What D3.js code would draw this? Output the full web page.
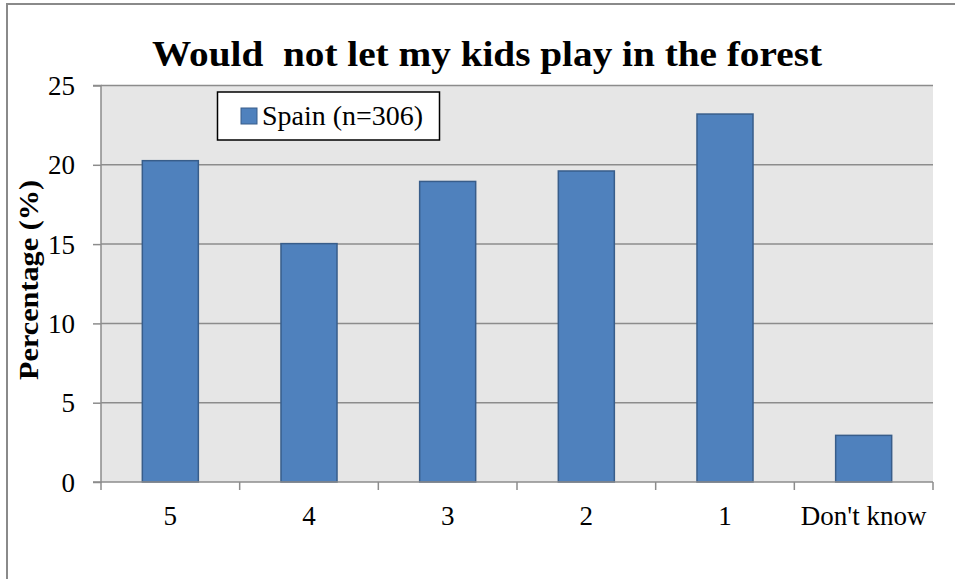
<!DOCTYPE html>
<html>
<head>
<meta charset="utf-8">
<script src="https://cdn.jsdelivr.net/npm/d3@7"></script>
<style>
  html, body { margin: 0; padding: 0; background: #fff; }
  svg { display: block; }
</style>
</head>
<body>
<svg id="chart" width="955" height="579"></svg>
<script>
// ---- data ----
const categories = ["5", "4", "3", "2", "1", "Don't know"];
const values = [20.26, 15.03, 18.95, 19.61, 23.20, 2.94];
const yTicks = [0, 5, 10, 15, 20, 25];
const seriesName = "Spain (n=306)";
const title = "Would  not let my kids play in the forest";
const yLabel = "Percentage (%)";

const svg = d3.select("#chart");
const W = 955, H = 579;
const m = { left: 101, right: 933, top: 85.5, bottom: 482 };
const serif = "'Liberation Serif', 'DejaVu Serif', serif";

// chart frame
svg.append("rect").attr("x", 7).attr("y", 4).attr("width", 1000).attr("height", 700)
  .attr("fill", "#fff").attr("stroke", "#8a8a8a").attr("stroke-width", 2);

const x = d3.scaleBand().domain(categories).range([m.left, m.right]).padding(0);
const y = d3.scaleLinear().domain([0, 25]).range([m.bottom, m.top]);

// plot background
svg.append("rect").attr("x", m.left).attr("y", m.top)
  .attr("width", m.right - m.left).attr("height", m.bottom - m.top).attr("fill", "#e6e6e6");

// gridlines
svg.append("g").selectAll("line").data(yTicks.filter(d => d > 0)).join("line")
  .attr("x1", m.left).attr("x2", m.right)
  .attr("y1", d => y(d)).attr("y2", d => y(d))
  .attr("stroke", "#8c8c8c").attr("stroke-width", 1.5);

// bars
const barW = x.bandwidth() * 0.404;
svg.append("g").selectAll("rect").data(values).join("rect")
  .attr("x", (d, i) => x(categories[i]) + (x.bandwidth() - barW) / 2)
  .attr("y", d => y(d))
  .attr("width", barW)
  .attr("height", d => y(0) - y(d))
  .attr("fill", "#4f81bd").attr("stroke", "#385d8a").attr("stroke-width", 1.5);

// y axis
const yAxis = svg.append("g").attr("transform", `translate(${m.left},0)`)
  .call(d3.axisLeft(y).tickValues(yTicks).tickSize(8).tickPadding(18).tickFormat(d3.format("d")));
yAxis.select(".domain").attr("stroke", "#8c8c8c").attr("stroke-width", 1.5).attr("d", `M-8,${m.top}H0V${m.bottom}H-8`);
yAxis.selectAll(".tick line").attr("stroke", "#8c8c8c").attr("stroke-width", 1.5);
yAxis.selectAll(".tick text").attr("font-family", serif).attr("font-size", 27).attr("fill", "#000").attr("dy", "0.34em");

// x axis
const xAxis = svg.append("g").attr("transform", `translate(0,${m.bottom})`)
  .call(d3.axisBottom(x).tickSize(0).tickPadding(0));
xAxis.select(".domain").attr("stroke", "#8c8c8c").attr("stroke-width", 1.5).attr("d", `M${m.left},0H${m.right}`);
xAxis.selectAll(".tick text").attr("font-family", serif).attr("font-size", 27).attr("fill", "#000")
  .attr("y", 43).attr("dy", 0);
// boundary ticks
const bounds = categories.map(c => x(c)).concat([m.right]);
xAxis.append("g").selectAll("line").data(bounds).join("line")
  .attr("x1", d => d).attr("x2", d => d).attr("y1", 0).attr("y2", 8)
  .attr("stroke", "#8c8c8c").attr("stroke-width", 1.5);

// title
svg.append("text").attr("x", 152).attr("y", 66).text(title)
  .style("white-space", "pre").attr("xml:space", "preserve")
  .attr("font-family", serif).attr("font-weight", "bold").attr("font-size", 36)
  .attr("textLength", 670).attr("lengthAdjust", "spacingAndGlyphs").attr("fill", "#000");

// y label
svg.append("text").attr("transform", "translate(38,280) rotate(-90)")
  .attr("text-anchor", "middle").text(yLabel)
  .attr("font-family", serif).attr("font-weight", "bold").attr("font-size", 27)
  .attr("textLength", 200).attr("lengthAdjust", "spacingAndGlyphs").attr("fill", "#000");

// legend
const lg = svg.append("g");
lg.append("rect").attr("x", 217.5).attr("y", 92).attr("width", 222).attr("height", 48)
  .attr("fill", "#fff").attr("stroke", "#000").attr("stroke-width", 1.5);
lg.append("rect").attr("x", 241).attr("y", 108).attr("width", 16).attr("height", 16)
  .attr("fill", "#4f81bd").attr("stroke", "#385d8a").attr("stroke-width", 1);
lg.append("text").attr("x", 262).attr("y", 125).text(seriesName)
  .attr("font-family", serif).attr("font-size", 27)
  .attr("textLength", 161).attr("lengthAdjust", "spacingAndGlyphs").attr("fill", "#000");
</script>
</body>
</html>
